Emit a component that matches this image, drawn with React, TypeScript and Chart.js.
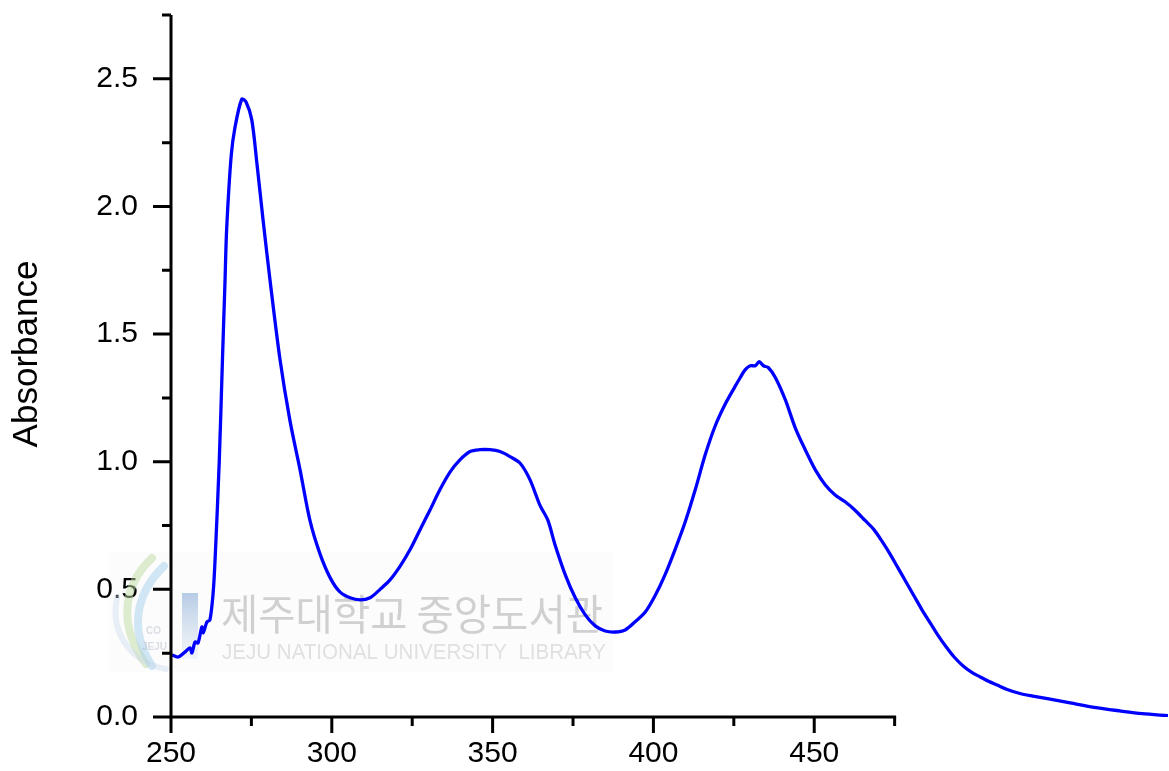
import React, { useEffect, useRef } from "react";
import { Chart, registerables } from "chart.js";

Chart.register(...registerables);

// Wavelength (nm) and absorbance of the UV-Vis spectrum
const wavelengths: number[] = [
  250.3, 252.2, 254.4, 255.9, 256.5, 257.5, 258.4, 259.6, 260.0, 261.2, 262.1, 263.1, 263.7,
  265.0, 266.0, 266.8, 267.3, 268.7, 269.9, 272.0, 273.3, 275.1, 276.7, 278.6, 280.8,
  283.9, 287.0, 290.1, 293.2, 296.3, 299.5, 302.5, 305.7, 308.8, 311.9, 315.0, 318.1,
  321.2, 324.3, 327.4, 330.5, 333.6, 336.8, 339.9, 343.0, 346.0, 349.2, 352.3, 355.4,
  358.5, 361.6, 364.7, 367.2, 369.4, 372.6, 375.7, 378.8, 381.9, 385.0, 388.1, 391.2,
  394.3, 397.4, 400.5, 403.6, 406.7, 409.9, 413.0, 416.1, 419.2, 422.3, 425.4, 427.0,
  428.5, 430.1, 431.7, 432.9, 434.2, 435.7, 437.9, 441.0, 444.1, 447.2, 450.3, 453.4,
  456.5, 459.6, 462.7, 465.8, 468.5, 471.0, 473.5, 476.0, 478.5, 481.0, 483.5, 486.0,
  488.5, 491.0, 493.5, 496.3, 499.0, 501.6, 504.2, 506.9, 510.0, 514.0, 518.0, 522.5,
  530.0, 537.0, 545.0, 552.0, 560.0,
];
const absorbance: number[] = [
  0.243, 0.235, 0.255, 0.271, 0.251, 0.294, 0.29, 0.353, 0.33, 0.373, 0.38, 0.486, 0.615,
  1.0, 1.4, 1.71, 1.91, 2.196, 2.31, 2.42, 2.41, 2.34, 2.17, 1.95, 1.71,
  1.40, 1.16, 0.97, 0.77, 0.64, 0.545, 0.49, 0.467, 0.459, 0.467, 0.50, 0.537,
  0.59, 0.655, 0.733, 0.81, 0.89, 0.96, 1.008, 1.04, 1.047, 1.047, 1.04, 1.02,
  0.995, 0.93, 0.83, 0.77, 0.675, 0.557, 0.467, 0.40, 0.357, 0.337, 0.333, 0.341,
  0.373, 0.41, 0.475, 0.557, 0.655, 0.765, 0.89, 1.027, 1.14, 1.225, 1.295, 1.33,
  1.36, 1.376, 1.376, 1.392, 1.376, 1.369, 1.33, 1.243, 1.133, 1.047, 0.969, 0.91,
  0.87, 0.843, 0.81, 0.77, 0.735, 0.69, 0.64, 0.585, 0.53, 0.475, 0.42, 0.37,
  0.32, 0.275, 0.235, 0.2, 0.175, 0.157, 0.14, 0.125, 0.108, 0.092, 0.082, 0.072,
  0.054, 0.038, 0.024, 0.013, 0.005,
];

const X_MIN = 250;
const X_MAX = 560;
const X_AXIS_END = 475;
const Y_MIN = 0;
const Y_MAX = 2.75;
const Y_TITLE = "Absorbance";
const WATERMARK_KO = "제주대학교 중앙도서관";
const WATERMARK_EN = "JEJU NATIONAL UNIVERSITY  LIBRARY";

const FONT = "'Liberation Sans', Arial, sans-serif";

// Axis lines, major/minor tick marks and the rotated y title
const axesPlugin = {
  id: "originAxes",
  afterDatasetsDraw(chart: any) {
    const { ctx, scales } = chart;
    const xs = scales.x;
    const ys = scales.y;
    const x0 = xs.getPixelForValue(X_MIN);
    const xEnd = xs.getPixelForValue(X_AXIS_END);
    const y0 = ys.getPixelForValue(Y_MIN);
    const yTop = ys.getPixelForValue(Y_MAX);
    ctx.save();
    ctx.strokeStyle = "#000";
    ctx.lineWidth = 3;
    ctx.lineCap = "butt";
    ctx.beginPath();
    ctx.moveTo(x0, yTop);
    ctx.lineTo(x0, y0 + 1.5);
    ctx.moveTo(x0 - 1.5, y0);
    ctx.lineTo(xEnd + 1.5, y0);
    ctx.stroke();

    ctx.beginPath();
    for (const t of ys.ticks) {
      const v = t.value;
      const major = Math.abs(v / 0.5 - Math.round(v / 0.5)) < 1e-6;
      const py = ys.getPixelForValue(v);
      ctx.moveTo(x0, py);
      ctx.lineTo(x0 - (major ? 18 : 9), py);
    }
    for (const t of xs.ticks) {
      const v = t.value;
      if (v > X_AXIS_END + 1e-6) continue;
      const major = Math.abs(v / 50 - Math.round(v / 50)) < 1e-6;
      const px = xs.getPixelForValue(v);
      ctx.moveTo(px, y0);
      ctx.lineTo(px, y0 + (major ? 16 : 9));
    }
    ctx.stroke();

    ctx.fillStyle = "#000";
    ctx.font = `35px ${FONT}`;
    ctx.textAlign = "center";
    ctx.textBaseline = "middle";
    ctx.translate(27, 354);
    ctx.rotate(-Math.PI / 2);
    ctx.fillText(Y_TITLE, 0, 0);
    ctx.restore();
  },
};

// Faint library stamp behind the curve
const stampPlugin = {
  id: "libraryStamp",
  beforeDatasetsDraw(chart: any) {
    const { ctx } = chart;
    ctx.save();
    ctx.fillStyle = "rgba(0,0,0,0.012)";
    ctx.fillRect(108, 552, 505, 120);

    ctx.lineCap = "round";
    ctx.lineWidth = 8;
    ctx.strokeStyle = "rgba(190,220,160,0.5)";
    ctx.beginPath();
    ctx.moveTo(152, 558);
    ctx.bezierCurveTo(118, 590, 122, 632, 146, 664);
    ctx.stroke();
    ctx.strokeStyle = "rgba(165,208,235,0.5)";
    ctx.beginPath();
    ctx.moveTo(164, 566);
    ctx.bezierCurveTo(134, 595, 130, 632, 152, 666);
    ctx.stroke();
    ctx.strokeStyle = "rgba(200,215,235,0.4)";
    ctx.lineWidth = 6;
    ctx.beginPath();
    ctx.moveTo(117, 598);
    ctx.bezierCurveTo(110, 632, 130, 662, 166, 669);
    ctx.stroke();
    ctx.fillStyle = "rgba(150,160,180,0.35)";
    ctx.font = `bold 10px ${FONT}`;
    ctx.textAlign = "left";
    ctx.fillText("CO", 146, 634);
    ctx.fillText("JEJU", 142, 650);

    const grad = ctx.createLinearGradient(0, 593, 0, 660);
    grad.addColorStop(0, "rgba(170,195,225,0.85)");
    grad.addColorStop(1, "rgba(200,215,235,0.2)");
    ctx.fillStyle = grad;
    ctx.fillRect(182, 593, 16, 66);

    ctx.fillStyle = "#d0d0d0";
    ctx.textBaseline = "alphabetic";
    ctx.font = `42px 'Noto Sans CJK KR', sans-serif`;
    ctx.fillText(WATERMARK_KO, 221, 630, 382);
    ctx.fillStyle = "#e0e0e0";
    ctx.font = `22px ${FONT}`;
    ctx.fillText(WATERMARK_EN, 222, 659, 384);
    ctx.restore();
  },
};

export default function App() {
  const canvasRef = useRef<HTMLCanvasElement | null>(null);

  useEffect(() => {
    document.body.style.margin = "0";
    const canvas = canvasRef.current;
    if (!canvas) return;
    const points = wavelengths.map((w, i) => ({ x: w, y: absorbance[i] }));
    const chart = new Chart(canvas, {
      type: "line",
      data: {
        datasets: [
          {
            data: points,
            borderColor: "#0000ff",
            borderWidth: 3.3,
            pointRadius: 0,
            tension: 0.3,
            fill: false,
          },
        ],
      },
      options: {
        animation: false,
        responsive: false,
        maintainAspectRatio: false,
        events: [],
        layout: { padding: { left: 0, right: 1, top: 15, bottom: 0 } },
        plugins: {
          legend: { display: false },
          tooltip: { enabled: false },
          title: { display: false },
        },
        scales: {
          x: {
            type: "linear",
            min: X_MIN,
            max: X_MAX,
            border: { display: false },
            grid: { display: false, drawTicks: false },
            ticks: {
              stepSize: 25,
              autoSkip: false,
              maxRotation: 0,
              padding: 19,
              color: "#000",
              font: { family: FONT, size: 30 },
              callback: (v: any) => {
                const n = Number(v);
                return n % 50 === 0 && n <= 450 ? String(n) : "";
              },
            },
            afterFit: (s: any) => {
              s.height = 54;
              s.paddingLeft = 0;
              s.paddingRight = 0;
            },
          },
          y: {
            type: "linear",
            min: Y_MIN,
            max: Y_MAX,
            border: { display: false },
            grid: { display: false, drawTicks: false },
            ticks: {
              stepSize: 0.25,
              autoSkip: false,
              padding: 33,
              color: "#000",
              font: { family: FONT, size: 30 },
              callback: (v: any) => {
                const n = Number(v);
                return Math.abs(n / 0.5 - Math.round(n / 0.5)) < 1e-6 ? n.toFixed(1) : "";
              },
            },
            afterFit: (s: any) => {
              s.width = 171;
              s.paddingTop = 0;
              s.paddingBottom = 0;
            },
          },
        },
      },
      plugins: [stampPlugin, axesPlugin],
    });
    return () => chart.destroy();
  }, []);

  return (
    <div style={{ position: "fixed", left: 0, top: 0, width: 1169, height: 771, background: "#fff" }}>
      <canvas ref={canvasRef} width={1169} height={771} style={{ display: "block" }} />
    </div>
  );
}
